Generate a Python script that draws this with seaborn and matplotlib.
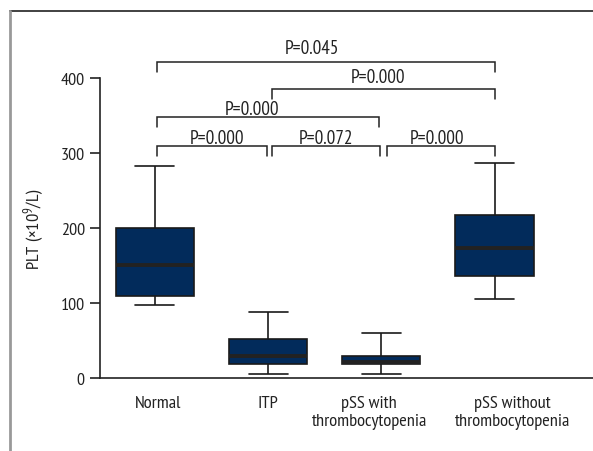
import numpy as np
import pandas as pd
import matplotlib
matplotlib.use("Agg")
import matplotlib.pyplot as plt
from matplotlib.lines import Line2D
from matplotlib import font_manager as fm
from matplotlib.transforms import ScaledTranslation
import seaborn as sns

# ---- data ----
categories = ["Normal", "ITP", "pSS with\nthrombocytopenia", "pSS without\nthrombocytopenia"]
whisker_low = [97, 6, 6, 106]
q1 = [110, 19, 19, 136]
medians = [151, 29, 22, 173]
q3 = [200, 52, 29, 217]
whisker_high = [283, 88, 60, 287]

yticks = [0, 100, 200, 300, 400]

# significance brackets
bracket_x1 = [0.02, 1.03, 2.05, 0.02, 1.03, 0.02]
bracket_x2 = [0.99, 1.99, 3.00, 1.98, 3.00, 3.00]
bracket_y = [309, 309, 309, 348, 385, 421]
bracket_labels = ["P=0.000", "P=0.072", "P=0.000", "P=0.000", "P=0.000", "P=0.045"]
label_x = [0.55, 1.51, 2.49, 0.86, 1.97, 1.39]
label_y = [314, 314, 314, 352, 395, 434]

# ---- build long table: 5 values per group give exact quartiles ----
rows = []
for c, a, b, m, d, e in zip(categories, whisker_low, q1, medians, q3, whisker_high):
    for v in (a, b, m, d, e):
        rows.append({"group": c, "value": v})
df = pd.DataFrame(rows)

sns.set_style("ticks")
available = set(f.name for f in fm.fontManager.ttflist)
main_font = "Liberation Sans"
for cand in ["PT Sans Narrow", "Asap Condensed", "Roboto Condensed", "Fira Sans Condensed", "Liberation Sans"]:
    if cand in available:
        main_font = cand
        break
plt.rcParams["font.family"] = [main_font, "DejaVu Sans"]
plt.rcParams["mathtext.fontset"] = "custom"
plt.rcParams["mathtext.rm"] = main_font
plt.rcParams["mathtext.default"] = "regular"

FS = 13
FS_X = 13.2
FS_P = 13.8
fig = plt.figure(figsize=(5.93, 4.52), dpi=100)
ax = fig.add_axes([100 / 593, 1 - 379 / 452, 1 - 100 / 593, 345 / 452])

navy = "#022b5b"
sns.boxplot(data=df, x="group", y="value", order=categories, ax=ax,
            whis=(0, 100), width=0.69, color=navy, saturation=1,
            linecolor="#1a1a1a", linewidth=1.2, showfliers=False,
            medianprops=dict(color="#222222", linewidth=2.8),
            boxprops=dict(facecolor=navy, edgecolor="#1a1a1a"))

ax.set_xlim(-0.485, 3.87)
ax.set_ylim(0, 460)
ax.set_yticks(yticks)
ax.set_yticklabels([str(t) for t in yticks], fontsize=FS, color="#222222")
ax.tick_params(axis="y", length=7, width=1.2, pad=4, color="#222222")
ax.tick_params(axis="x", length=0, pad=12, labelsize=FS_X, labelcolor="#222222")
# the reference nudges the two long labels apart
label_shift_px = [3, 0, -12, 18]
for lab, dx in zip(ax.get_xticklabels(), label_shift_px):
    lab.set_linespacing(1.2)
    lab.set_transform(lab.get_transform() + ScaledTranslation(dx / 100, 0, fig.dpi_scale_trans))
ax.set_xlabel("")
ax.set_ylabel("PLT (×10$^{9}$/L)", fontsize=FS_X, color="#222222")
ax.yaxis.set_label_coords((47 - 100) / 493, (379 - 229) / 345)
for s in ["top", "right"]:
    ax.spines[s].set_visible(False)
ax.spines["left"].set_bounds(0, 400)
for s in ["left", "bottom"]:
    ax.spines[s].set_linewidth(1.2)
    ax.spines[s].set_color("#222222")

tick_len = 13
for x1, x2, y, lab, lx, ly in zip(bracket_x1, bracket_x2, bracket_y, bracket_labels, label_x, label_y):
    ax.plot([x1, x1, x2, x2], [y - tick_len, y, y, y - tick_len],
            color="#222222", lw=1.1, clip_on=False, solid_joinstyle="miter")
    ax.text(lx, ly, lab, ha="center", va="baseline", fontsize=FS_P, color="#222222")

# outer frame of the figure panel
fig.add_artist(Line2D([10 / 593, 1], [1 - 12 / 452, 1 - 12 / 452],
                      transform=fig.transFigure, color="#333333", lw=1.3))
fig.add_artist(Line2D([10 / 593, 10 / 593], [0, 1 - 12 / 452],
                      transform=fig.transFigure, color="#999999", lw=2))

fig.savefig("out.png", dpi=100)
